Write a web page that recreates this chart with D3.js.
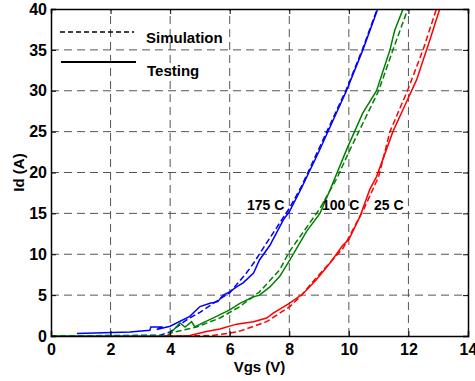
<!DOCTYPE html>
<html><head><meta charset="utf-8">
<script src="https://cdn.jsdelivr.net/npm/d3@7"></script>
<style>
html,body{margin:0;padding:0;background:#fff;}
text{font-family:"Liberation Sans",Arial,Helvetica,sans-serif;font-weight:bold;fill:#000;}
</style></head>
<body><svg id="chart" width="475" height="381"></svg>
<script>
// ---- data ----
const xTicks = [0, 2, 4, 6, 8, 10, 12, 14];
const yTicks = [0, 5, 10, 15, 20, 25, 30, 35, 40];

const test175V = [0.87, 2.65, 3.32, 3.35, 3.75, 3.55, 4.0, 4.66, 5.0, 5.34, 5.6, 5.78, 6.0, 6.23, 6.45, 6.8, 7.0, 7.35, 7.8, 8.0, 8.41, 9.0, 9.92, 10.47, 10.97];
const test175I = [0.3, 0.5, 0.7, 1.1, 1.1, 0.8, 1.2, 2.4, 3.6, 4.0, 4.2, 5.0, 5.4, 6.0, 6.5, 7.7, 9.3, 11.1, 14.2, 15.2, 18.1, 22.6, 30, 35, 40];
const sim175V = [0, 3.66, 4.0, 4.55, 5.0, 5.45, 6.0, 6.56, 6.8, 7.24, 8.0, 8.41, 9.92, 10.47, 10.95];
const sim175I = [0, 0.1, 0.5, 1.96, 2.9, 4.0, 5.3, 7.7, 8.9, 11.4, 15.6, 18.3, 30.2, 35.2, 40];

const test100V = [0, 3.88, 4.0, 4.33, 4.5, 4.72, 4.83, 5.06, 5.56, 5.78, 6.0, 6.34, 6.8, 7.0, 7.35, 7.68, 8.02, 8.58, 9.03, 9.36, 9.97, 10.47, 10.93, 11.38, 11.54, 11.82];
const test100I = [0, 0, 0.3, 1.6, 1.1, 1.75, 1.1, 1.55, 2.4, 2.8, 3.2, 4.0, 4.8, 5.0, 6.0, 7.3, 9.3, 12.8, 15.0, 17.8, 23.2, 27.3, 30, 35, 37.4, 40];
const sim100V = [0, 3.9, 4.0, 4.89, 5.67, 6.34, 7.0, 7.68, 8.0, 9.03, 9.6, 10.0, 11.0, 11.48, 11.98];
const sim100I = [0, 0, 0.35, 1.1, 2.2, 3.6, 5.4, 8.1, 10.3, 15.6, 19.3, 22.5, 30, 35, 40];

const test25V = [3.8, 4.4, 4.66, 5.22, 5.67, 6.23, 6.8, 7.24, 7.46, 8.0, 8.47, 8.9, 9.36, 9.8, 10.0, 10.37, 10.7, 10.93, 11.48, 11.88, 12.27, 12.72, 13.05];
const test25I = [0, 0, 0.05, 0.55, 0.85, 1.45, 1.75, 2.2, 2.8, 4.0, 5.2, 6.85, 8.9, 11.1, 11.8, 14.6, 17.9, 19.5, 25, 28.2, 31.3, 36.2, 40];
const sim25V = [3.9, 5.4, 6.0, 6.34, 7.24, 8.02, 8.36, 9.0, 9.8, 10.5, 11.0, 11.38, 12.0, 12.49, 12.94];
const sim25I = [0, 0.05, 0.35, 0.6, 1.75, 3.6, 4.8, 7.5, 10.7, 15.5, 19.5, 25, 30.3, 35, 40];

const seriesNames = ["175 C", "100 C", "25 C"];
const seriesColors = ["#0000ff", "#008000", "#ff0000"];
const legendLabels = ["Simulation", "Testing"];

// ---- layout ----
const W = 475, H = 381;
const m = {left: 51, right: 7, top: 9, bottom: 45};
const svg = d3.select("#chart");
const x = d3.scaleLinear().domain([0, 14]).range([m.left, W - m.right]);
const y = d3.scaleLinear().domain([0, 40]).range([H - m.bottom, m.top]);

// grid
const grid = svg.append("g");
grid.selectAll(".vg").data(xTicks.filter(d => d > 0 && d < 14)).enter().append("line")
  .attr("x1", d => x(d)).attr("x2", d => x(d)).attr("y1", y(0)).attr("y2", y(40))
  .attr("stroke", "#555").attr("stroke-width", 1).attr("stroke-dasharray", "8,5");
grid.selectAll(".hg").data(yTicks.filter(d => d > 0 && d < 40)).enter().append("line")
  .attr("y1", d => y(d)).attr("y2", d => y(d)).attr("x1", x(0)).attr("x2", x(14))
  .attr("stroke", "#555").attr("stroke-width", 1).attr("stroke-dasharray", "8,5");

// curves
const line = d3.line().x(d => x(d[0])).y(d => y(d[1]));
const zip = (a, b) => a.map((v, i) => [v, b[i]]);
const curves = [
  {v: sim175V, i: sim175I, c: 0, dash: true},
  {v: test175V, i: test175I, c: 0, dash: false},
  {v: sim100V, i: sim100I, c: 1, dash: true},
  {v: test100V, i: test100I, c: 1, dash: false},
  {v: sim25V, i: sim25I, c: 2, dash: true},
  {v: test25V, i: test25I, c: 2, dash: false}
];
const plot = svg.append("g");
curves.forEach(cv => {
  plot.append("path").datum(zip(cv.v, cv.i)).attr("d", line)
    .attr("fill", "none").attr("stroke", seriesColors[cv.c]).attr("stroke-width", 1.5)
    .attr("stroke-dasharray", cv.dash ? "6,3" : null);
});

// axes
const ax = svg.append("g").attr("transform", `translate(0,${y(0)})`)
  .call(d3.axisBottom(x).tickValues(xTicks).tickSize(-5).tickPadding(8));
const ay = svg.append("g").attr("transform", `translate(${x(0)},0)`)
  .call(d3.axisLeft(y).tickValues(yTicks).tickSize(-5).tickPadding(4));
const axT = svg.append("g").attr("transform", `translate(0,${y(40)})`)
  .call(d3.axisTop(x).tickValues(xTicks).tickSize(-5).tickFormat(""));
const ayR = svg.append("g").attr("transform", `translate(${x(14)},0)`)
  .call(d3.axisRight(y).tickValues(yTicks).tickSize(-5).tickFormat(""));
[ax, ay, axT, ayR].forEach(g => {
  g.select(".domain").attr("stroke", "#000").attr("stroke-width", 1.5);
  g.selectAll(".tick line").attr("stroke", "#000");
  g.selectAll("text").style("font-size", "16px").style("font-family", '"Liberation Sans",Arial,sans-serif').style("font-weight", "bold").attr("fill", "#000");
});

// axis labels
svg.append("text").attr("x", (x(0) + x(14)) / 2).attr("y", 372).attr("text-anchor", "middle")
  .style("font-size", "15px").text("Vgs (V)");
svg.append("text").attr("transform", `translate(24,${(y(0) + y(40)) / 2}) rotate(-90)`)
  .attr("text-anchor", "middle").style("font-size", "15px").text("Id (A)");

// legend
const lg = svg.append("g");
lg.append("line").attr("x1", 60).attr("x2", 134).attr("y1", 32).attr("y2", 32)
  .attr("stroke", "#000").attr("stroke-width", 1.5).attr("stroke-dasharray", "5,3");
lg.append("text").attr("x", 146).attr("y", 43).style("font-size", "15px").text(legendLabels[0]);
lg.append("line").attr("x1", 61).attr("x2", 136).attr("y1", 62).attr("y2", 62)
  .attr("stroke", "#000").attr("stroke-width", 2);
lg.append("text").attr("x", 147).attr("y", 76).style("font-size", "15px").text(legendLabels[1]);

// annotations
const annX = [247, 322, 374];
seriesNames.forEach((n, k) => {
  svg.append("text").attr("x", annX[k]).attr("y", 210).style("font-size", "14px").text(n);
});
</script></body></html>
